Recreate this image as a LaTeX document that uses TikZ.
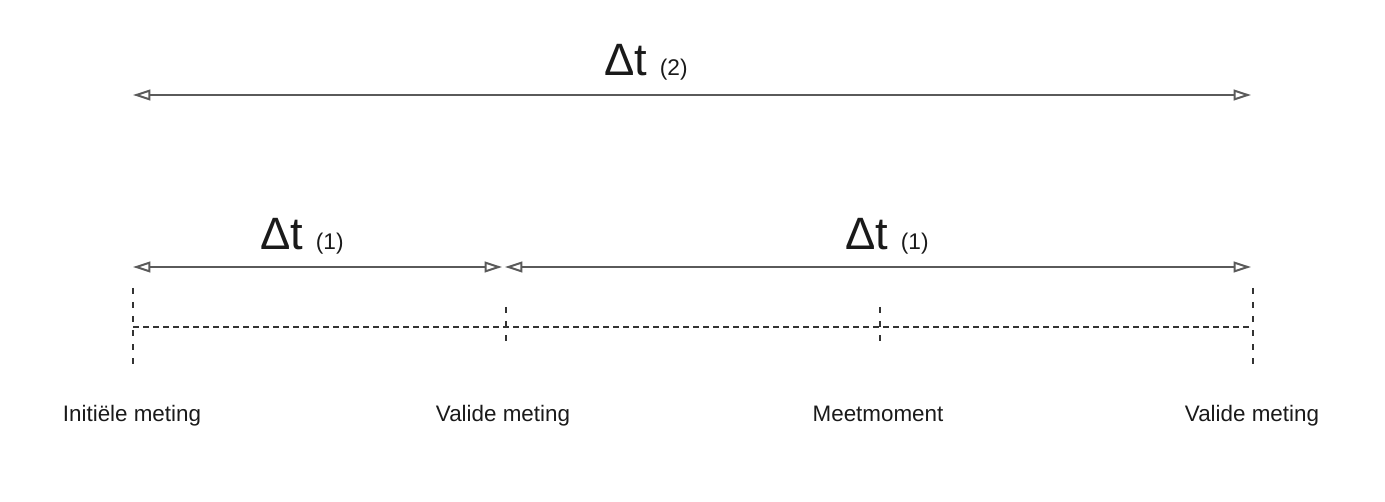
\documentclass[tikz,border=0pt]{standalone}
\usepackage{fontspec}
\setmainfont{Liberation Sans}
\usetikzlibrary{arrows.meta}
\definecolor{spangray}{HTML}{5A5A5A}
\definecolor{tickgray}{HTML}{333333}
\definecolor{textgray}{HTML}{1A1A1A}

\begin{document}
\begin{tikzpicture}[
  x = 0.75pt, y = -0.75pt,
  span/.style = {draw = spangray, line width = 1.5pt,
                 {Triangle[open, length = 13pt, width = 8pt]}-{Triangle[open, length = 13pt, width = 8pt]}},
  timeline/.style = {draw = tickgray, line width = 1.1pt, dash pattern = on 4.5pt off 3pt},
  tick/.style = {draw = tickgray, line width = 1.1pt, dash pattern = on 4.5pt off 6pt},
  every node/.style = {inner sep = 0pt, text = textgray},
  moment/.style = {anchor = base, font = \fontsize{16.8}{20}\selectfont},
  delta/.style = {anchor = base, font = \fontsize{34}{38}\selectfont},
  ]
  \useasboundingbox (0,0) rectangle (1385,502);

  \coordinate (a0) at (133,95);
  \coordinate (a1) at (1251,95);
  \coordinate (b0) at (133,267);
  \coordinate (b1) at (502,267);
  \coordinate (b2) at (505,267);
  \coordinate (b3) at (1251,267);
  \coordinate (t0) at (133,327);
  \coordinate (t3) at (1253,327);

  \draw[span] (a0) -- (a1);
  \draw[span] (b0) -- (b1);
  \draw[span] (b2) -- (b3);

  \draw[timeline] (t0) -- (t3);
  \draw[tick] (133,288) -- (133,368);
  \draw[tick] (506,307) -- (506,348);
  \draw[tick] (880,307) -- (880,348);
  \draw[tick] (1253,288) -- (1253,368);

  \node[delta] (dt2) at (646,76) {Δt {\fontsize{17}{20}\selectfont(2)}};
  \node[delta] (dt1a) at (302,250) {Δt {\fontsize{17}{20}\selectfont(1)}};
  \node[delta] (dt1b) at (887,250) {Δt {\fontsize{17}{20}\selectfont(1)}};

  \node[moment] (init) at (132,421) {Initiële meting};
  \node[moment] (valid1) at (503,421) {Valide meting};
  \node[moment] (meet) at (878,421) {Meetmoment};
  \node[moment] (valid2) at (1252,421) {Valide meting};
\end{tikzpicture}
\end{document}
